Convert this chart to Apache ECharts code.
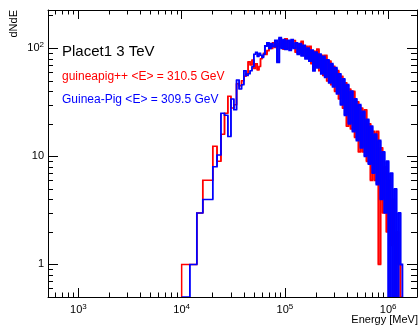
<!DOCTYPE html>
<html>
<head>
<meta charset="utf-8">
<script src="https://cdn.jsdelivr.net/npm/echarts@6/dist/echarts.min.js"></script>
<style>
html, body { margin: 0; padding: 0; background: #fff; }
#main { width: 420px; height: 325px; }
</style>
</head>
<body>
<div id="main"></div>
<script>
// bin edges in GeV: 2 GeV bins on the rising edge, merged bins in the dense tail
var binEdges = [10, 12, 14, 16, 18, 20, 22, 24, 26, 28, 30, 32, 34, 36, 38, 40, 42, 44, 46, 48,
    50, 52, 54, 56, 58, 60, 62, 64, 67, 70, 73, 76, 80, 84, 88, 92, 96, 100, 105, 110, 115, 120,
    126, 132, 138, 144, 150, 157, 164, 171, 179, 187, 195, 204, 213, 223, 233, 243, 254, 266,
    278, 290, 303, 317, 331, 346, 362, 378, 395, 413, 432, 452, 473, 494, 516, 540, 564, 590,
    617, 645, 674, 704, 736, 770, 805, 842, 880, 920, 962, 1005, 1050, 1098, 1148, 1200, 1255,
    1312, 1372];
var denseFrom = 27; // first bin of the dense tail

// guineapig++ (red)
var guineapigPP = [1, 1, 3, 6, 6, 12.4, 9, 16, 25, 36, 28, 30, 47, 45, 50, 55, 58, 75, 70, 78,
    65, 72, 63, 68, 80, 84, 90,
    88, 95, 108, 100, 112, 102, 110, 104, 118, 98, 122, 100, 115, 104, 118, 92, 110, 95, 116, 86,
    104, 82, 104, 72, 94, 68, 98, 62, 86, 56, 86, 50, 76, 46, 68, 40, 62, 34, 55, 28, 48, 19, 42,
    18, 40, 15, 32, 11, 28, 11, 27, 9, 20, 6, 17, 6, 17, 1, 12, 3,
    8, 2, 6, 1.5, 4, 0, 2, 1, 0];

// Guinea-Pig (blue)
var guineaPig = [0, 1, 3, 4, 4, 8, 10.3, 25, 24, 15.3, 34, 27, 51, 42, 46, 62, 56, 58, 62, 68,
    88, 92, 84, 90, 86, 82, 88,
    105, 112, 100, 110, 104, 118, 74, 125, 100, 120, 98, 118, 96, 120, 100, 112, 88, 110, 85, 106,
    80, 100, 76, 96, 62, 92, 66, 88, 58, 84, 54, 78, 48, 72, 44, 66, 38, 58, 30, 52, 24, 46, 20,
    40, 17, 34, 14, 30, 12, 26, 10, 22, 8.5, 19, 7, 16, 5.5, 14, 4, 11,
    3, 9, 0, 7, 0, 5, 0, 3, 1];

var xMajor = [1e3, 1e4, 1e5, 1e6];
var xMinor = [600, 700, 800, 900, 2000, 3000, 4000, 5000, 6000, 7000, 8000, 9000,
    20000, 30000, 40000, 50000, 60000, 70000, 80000, 90000,
    200000, 300000, 400000, 500000, 600000, 700000, 800000, 900000];
var yMajor = [1, 10, 100];
var yMinor = [0.6, 0.7, 0.8, 0.9, 2, 3, 4, 5, 6, 7, 8, 9, 20, 30, 40, 50, 60, 70, 80, 90, 200];

var xMin = 508, xMax = 1.9e6;
var yMin = 0.5, yMax = 226;
var font = 'Liberation Sans';

function lv(vals, i) {
    if (i < 0 || i >= vals.length || !(vals[i] > 0)) return yMin;
    return vals[i];
}

// one item per bin: [left MeV, right MeV, value, previous value, next value]
function binItems(vals, i0, i1) {
    var items = [];
    for (var i = i0; i < i1; i++) {
        items.push([binEdges[i] * 1000, binEdges[i + 1] * 1000, lv(vals, i), lv(vals, i - 1), lv(vals, i + 1)]);
    }
    return items;
}

// histogram outline drawn bin by bin (a line series would drop the tiny tail segments)
function hist(name, vals, i0, i1, color, width) {
    return {
        name: name,
        type: 'custom',
        xAxisIndex: 0,
        yAxisIndex: 0,
        clip: true,
        silent: true,
        encode: {x: [0, 1], y: 2},
        data: binItems(vals, i0, i1),
        renderItem: function (params, api) {
            var x0 = api.value(0), x1 = api.value(1), v = api.value(2);
            return {
                type: 'polyline',
                shape: {points: [
                    api.coord([x0, api.value(3)]),
                    api.coord([x0, v]),
                    api.coord([x1, v]),
                    api.coord([x1, api.value(4)])
                ]},
                style: {stroke: color, lineWidth: width, fill: null}
            };
        }
    };
}

var rich = {
    b: {fontSize: 11, lineHeight: 14, fontFamily: font, color: '#000'},
    s: {fontSize: 8, lineHeight: 8, fontFamily: font, color: '#000', verticalAlign: 'top'}
};

function powLabel(v) {
    var n = Math.round(Math.log10(v));
    if (n === 0) return '{b|1}';
    if (n === 1) return '{b|10}';
    return '{b|10}{s|' + n + '}';
}

function axis(pos, min, max, ticks, len, showLine, margin) {
    return {
        type: 'log',
        logBase: 10,
        position: pos,
        min: min,
        max: max,
        axisLine: {show: showLine, lineStyle: {color: '#000', width: 1}},
        axisTick: {show: true, inside: true, length: len, customValues: ticks,
            lineStyle: {color: '#000', width: 1}},
        axisLabel: margin != null ? {
            show: true, customValues: ticks, margin: margin, color: '#000',
            fontFamily: font, fontSize: 11, formatter: powLabel, rich: rich
        } : {show: false},
        splitLine: {show: false},
        minorTick: {show: false},
        minorSplitLine: {show: false}
    };
}

var myChart = echarts.init(document.getElementById('main'));
var nBins = guineaPig.length;

myChart.setOption({
    backgroundColor: '#fff',
    animation: false,
    grid: {left: 48, right: 3, top: 10, bottom: 28, outerBoundsMode: 'none'},
    xAxis: [
        axis('bottom', xMin, xMax, xMajor, 9, true, 6),
        axis('bottom', xMin, xMax, xMinor, 4.5, false, null),
        axis('top', xMin, xMax, xMajor, 9, true, null),
        axis('top', xMin, xMax, xMinor, 4.5, false, null)
    ],
    yAxis: [
        axis('left', yMin, yMax, yMajor, 10, true, 4),
        axis('left', yMin, yMax, yMinor, 5, false, null),
        axis('right', yMin, yMax, yMajor, 10, true, null),
        axis('right', yMin, yMax, yMinor, 6, false, null)
    ],
    series: [
        hist('guineapig++', guineapigPP, 0, denseFrom, '#ff0000', 1.5),
        hist('guineapig++', guineapigPP, denseFrom, nBins, '#ff0000', 1.7),
        hist('Guinea-Pig', guineaPig, 0, denseFrom, '#0000ff', 1.5),
        hist('Guinea-Pig', guineaPig, denseFrom, nBins, '#0000ff', 1.9)
    ],
    graphic: [
        {type: 'text', x: 62, y: 52, silent: true,
            style: {text: 'Placet1 3 TeV', fontSize: 15, fontFamily: font, fill: '#000', verticalAlign: 'middle'}},
        {type: 'text', x: 62, y: 76.5, silent: true,
            style: {text: 'guineapig++ <E> = 310.5 GeV', fontSize: 12, fontFamily: font, fill: '#ff0000', verticalAlign: 'middle'}},
        {type: 'text', x: 62, y: 100, silent: true,
            style: {text: 'Guinea-Pig <E> = 309.5 GeV', fontSize: 12, fontFamily: font, fill: '#0000ff', verticalAlign: 'middle'}},
        {type: 'text', x: 418, y: 320, silent: true,
            style: {text: 'Energy [MeV]', fontSize: 11, fontFamily: font, fill: '#000', align: 'right', verticalAlign: 'middle'}},
        {type: 'text', x: 13.5, y: 10, rotation: Math.PI / 2, silent: true,
            style: {text: 'dNdE', fontSize: 11, fontFamily: font, fill: '#000', align: 'right', verticalAlign: 'middle'}}
    ]
});

window.addEventListener('resize', function () {
    myChart.resize();
});
</script>
</body>
</html>
